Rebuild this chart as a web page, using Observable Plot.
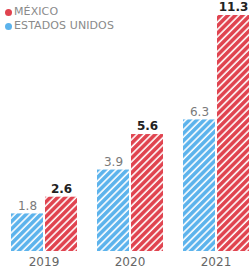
<!DOCTYPE html>
<html>
<head>
<meta charset="utf-8">
<script src="https://cdn.jsdelivr.net/npm/d3@7"></script>
<script src="https://cdn.jsdelivr.net/npm/@observablehq/plot@0.6"></script>
<style>
  html, body { margin: 0; padding: 0; background: #fff; }
  #wrap { position: relative; width: 249px; height: 269px; overflow: hidden; }
  #legend { position: absolute; left: 5px; top: 5px; font-family: "DejaVu Sans", sans-serif; font-size: 11px; letter-spacing: 0.1px; color: #8a8a8a; line-height: 14px; }
  #legend .row { display: flex; align-items: center; white-space: nowrap; }
  #legend .dot { width: 7px; height: 7px; border-radius: 50%; margin-right: 2px; display: inline-block; }
</style>
</head>
<body>
<div id="wrap">
  <div id="chart"></div>
  <div id="legend"></div>
</div>
<script>
const years = ["2019", "2020", "2021"];
const mexico = [2.6, 5.6, 11.3];
const usa = [1.8, 3.9, 6.3];
const seriesNames = ["ESTADOS UNIDOS", "MÉXICO"];
const legendOrder = ["MÉXICO", "ESTADOS UNIDOS"];
const baseColors = {"MÉXICO": "#e0434f", "ESTADOS UNIDOS": "#5cb3ec"};
const patternIds = {"MÉXICO": "hatch-red", "ESTADOS UNIDOS": "hatch-blue"};

const data = years.flatMap((y, i) => [
  {year: y, country: "ESTADOS UNIDOS", value: usa[i]},
  {year: y, country: "MÉXICO", value: mexico[i]}
]);
const dUS = data.filter(d => d.country === "ESTADOS UNIDOS");
const dMX = data.filter(d => d.country === "MÉXICO");

const chart = Plot.plot({
  width: 249,
  height: 269,
  marginTop: 15,
  marginBottom: 18,
  marginLeft: 10,
  marginRight: 0,
  style: {fontFamily: "DejaVu Sans, sans-serif", fontSize: "12px", color: "#666", overflow: "visible"},
  fx: {domain: years, paddingInner: 0.225, paddingOuter: 0, label: null, axis: "bottom", tickSize: 0, tickPadding: 6},
  x: {domain: seriesNames, axis: null, paddingInner: 0.06, paddingOuter: 0},
  y: {domain: [0, 11.3], axis: null},
  marks: [
    Plot.barY(dUS, {fx: "year", x: "country", y: "value", fill: "url(#hatch-blue)"}),
    Plot.barY(dMX, {fx: "year", x: "country", y: "value", fill: "url(#hatch-red)"}),
    Plot.text(dUS, {fx: "year", x: "country", y: "value", text: d => d.value.toFixed(1), dy: -8, fill: "#7a7a7a", fontSize: 12}),
    Plot.text(dMX, {fx: "year", x: "country", y: "value", text: d => d.value.toFixed(1), dy: -8, fill: "#222", fontWeight: "bold", fontSize: 12})
  ]
});

// hatch patterns
const svg = d3.select(chart.tagName.toLowerCase() === "svg" ? chart : chart.querySelector("svg"));
const defs = svg.insert("defs", ":first-child");
for (const name of seriesNames) {
  const p = defs.append("pattern")
    .attr("id", patternIds[name])
    .attr("patternUnits", "userSpaceOnUse")
    .attr("width", 5.2)
    .attr("height", 5.2)
    .attr("patternTransform", "rotate(45)");
  p.append("rect").attr("width", 5.2).attr("height", 5.2).attr("fill", baseColors[name]);
  p.append("line").attr("x1", 1).attr("x2", 1).attr("y1", 0).attr("y2", 5.2)
    .attr("stroke", "#fff").attr("stroke-width", 1.6);
}
document.getElementById("chart").appendChild(chart);

const legend = d3.select("#legend");
for (const name of legendOrder) {
  const row = legend.append("div").attr("class", "row");
  row.append("span").attr("class", "dot").style("background", baseColors[name]);
  row.append("span").text(name);
}
</script>
</body>
</html>
